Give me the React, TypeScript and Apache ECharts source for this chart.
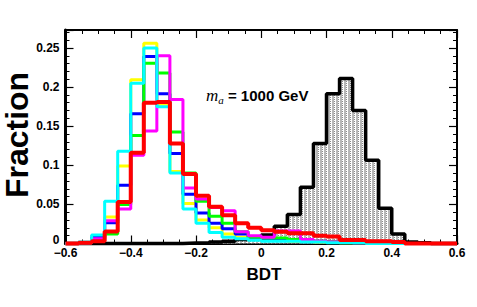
import React, { useEffect, useRef } from "react";
import * as echarts from "echarts";

// Bin edges: 30 bins of width 0.04 from -0.6 to 0.6
const binStart = -0.6;
const binWidth = 0.04;

const yellowVals = [0, 0.001, 0.006, 0.034, 0.099, 0.2095, 0.256, 0.178, 0.092, 0.051, 0.03, 0.02, 0.012, 0.008, 0.005, 0.004, 0.004, 0.003, 0.003, 0.002, 0.002, 0.001, 0.001, 0.001, 0, 0, 0, 0, 0, 0];
const blueVals = [0, 0.001, 0.008, 0.0265, 0.0746, 0.166, 0.239, 0.1915, 0.115, 0.063, 0.039, 0.026, 0.019, 0.012, 0.007, 0.005, 0.006, 0.005, 0.004, 0.003, 0.002, 0.002, 0.001, 0.001, 0, 0, 0, 0, 0, 0];
const greenVals = [0, 0.001, 0.004, 0.012, 0.05, 0.138, 0.2306, 0.218, 0.1426, 0.09, 0.054, 0.035, 0.026, 0.015, 0.008, 0.007, 0.007, 0.005, 0.004, 0.003, 0.002, 0.002, 0.001, 0.001, 0, 0, 0, 0, 0, 0];
const magentaVals = [0, 0.001, 0.006, 0.029, 0.044, 0.113, 0.144, 0.24, 0.184, 0.071, 0.057, 0.046, 0.042, 0.015, 0.01, 0.008, 0.016, 0.016, 0.005, 0.003, 0.002, 0.002, 0.001, 0.001, 0, 0, 0, 0, 0, 0];
const cyanVals = [0, 0.002, 0.011, 0.054, 0.118, 0.205, 0.25, 0.175, 0.09, 0.044, 0.026, 0.014, 0.008, 0.006, 0.004, 0.003, 0.003, 0.003, 0.002, 0.002, 0.001, 0.001, 0.001, 0, 0, 0, 0, 0, 0, 0];
const redVals = [0, 0.001, 0.003, 0.0155, 0.053, 0.116, 0.18, 0.181, 0.128, 0.089, 0.061, 0.047, 0.036, 0.026, 0.02, 0.017, 0.015, 0.013, 0.013, 0.01, 0.009, 0.0045, 0.0045, 0.003, 0.003, 0.002, 0, 0, 0, 0];
const signalVals = [0, 0, 0, 0, 0, 0, 0, 0, 0, 0.0005, 0.001, 0.002, 0.003, 0.005, 0.008, 0.011, 0.022, 0.037, 0.072, 0.128, 0.1915, 0.211, 0.17, 0.1065, 0.045, 0.012, 0.002, 0.001, 0, 0];

const xTicks = [-0.6, -0.4, -0.2, 0, 0.2, 0.4, 0.6];
const yTicks = [0, 0.05, 0.1, 0.15, 0.2, 0.25];

function stepData(vals: number[]) {
  const pts: [number, number][] = vals.map((v, i) => [+(binStart + i * binWidth).toFixed(4), v]);
  pts.push([+(binStart + vals.length * binWidth).toFixed(4), vals[vals.length - 1]]);
  return pts;
}

function makePattern() {
  const c = document.createElement("canvas");
  c.width = 4;
  c.height = 4;
  const ctx = c.getContext("2d")!;
  ctx.fillStyle = "#ffffff";
  ctx.fillRect(0, 0, 4, 4);
  ctx.fillStyle = "#b8b8b8";
  ctx.fillRect(0, 0, 2, 4);
  ctx.fillStyle = "#8a8a8a";
  ctx.fillRect(2, 1, 1, 1);
  ctx.fillRect(2, 3, 1, 1);
  return c;
}

export default function App() {
  const ref = useRef<HTMLDivElement>(null);
  useEffect(() => {
    if (!ref.current) return;
    const chart = echarts.init(ref.current, null, { renderer: "svg" });
    const font = "Liberation Sans, Arial, Helvetica, sans-serif";
    const fmtX = (v: number) => {
      if (Math.abs(v) < 1e-9) return "0";
      const s = String(+Math.abs(v).toFixed(2));
      return v < 0 ? "\u2212" + s : s;
    };
    const fmtY = (v: number) => (Math.abs(v) < 1e-9 ? "{z|0}" : String(+v.toFixed(2)));
    const line = (vals: number[], color: string, width: number, z: number) => ({
      type: "line",
      data: stepData(vals),
      step: "end",
      symbol: "none",
      clip: false,
      z,
      lineStyle: { color, width },
      itemStyle: { color },
      silent: true,
    });
    let fill: any = "#c4c4c4";
    try {
      fill = { image: makePattern(), repeat: "repeat" };
    } catch (e) {
      fill = "#c4c4c4";
    }
    const axisCommon = {
      type: "value",
      splitLine: { show: false },
      axisTick: { show: true, inside: true, length: 8, lineStyle: { color: "#000", width: 1.2 } },
      minorTick: { show: true, length: 4, lineStyle: { color: "#000", width: 1 } },
      minorSplitLine: { show: false },
    };
    chart.setOption({
      animation: false,
      grid: { left: 65.5, right: 20, top: 30, bottom: 63.5, containLabel: false },
      xAxis: [
        {
          ...axisCommon,
          min: -0.6,
          max: 0.6,
          interval: 0.2,
          position: "bottom",
          minorTick: { ...axisCommon.minorTick, splitNumber: 4 },
          axisLine: { show: true, onZero: false, lineStyle: { color: "#000", width: 3 } },
          axisLabel: {
            show: true,
            formatter: (v: number) => (xTicks.some((t) => Math.abs(t - v) < 1e-6) ? fmtX(v) : ""),
            fontFamily: font,
            fontWeight: "bold",
            fontSize: 12,
            color: "#000",
            margin: 3,
          },
        },
        {
          ...axisCommon,
          min: -0.6,
          max: 0.6,
          interval: 0.2,
          position: "top",
          minorTick: { ...axisCommon.minorTick, splitNumber: 4 },
          axisLine: { show: true, onZero: false, lineStyle: { color: "#000", width: 2 } },
          axisLabel: { show: false },
        },
      ],
      yAxis: [
        {
          ...axisCommon,
          min: 0,
          max: 0.273,
          interval: 0.05,
          position: "left",
          minorTick: { ...axisCommon.minorTick, splitNumber: 5 },
          axisLine: { show: true, onZero: false, lineStyle: { color: "#000", width: 3 } },
          axisLabel: {
            show: true,
            showMaxLabel: false,
            formatter: (v: number) => (yTicks.some((t) => Math.abs(t - v) < 1e-6) ? fmtY(v) : ""),
            fontFamily: font,
            fontWeight: "bold",
            fontSize: 12,
            color: "#000",
            margin: 6,
            rich: {
              z: {
                fontFamily: font,
                fontWeight: "bold",
                fontSize: 12,
                color: "#000",
                padding: [0, 0, 8, 0],
              },
            },
          },
        },
        {
          ...axisCommon,
          min: 0,
          max: 0.273,
          interval: 0.05,
          position: "right",
          minorTick: { ...axisCommon.minorTick, splitNumber: 5 },
          axisLine: { show: true, onZero: false, lineStyle: { color: "#000", width: 2 } },
          axisLabel: { show: false },
        },
      ],
      series: [
        {
          ...line(signalVals, "#000000", 3.5, 2),
          areaStyle: { color: fill, opacity: 1 },
        },
        line(yellowVals, "#ffff00", 3, 3),
        line(blueVals, "#0000ff", 3, 4),
        line(greenVals, "#00ff00", 3, 5),
        line(magentaVals, "#ff00ff", 3, 6),
        line(cyanVals, "#00ffff", 3, 7),
        line(redVals, "#ff0000", 4, 8),
      ],
      graphic: [
        {
          type: "text",
          left: 206,
          top: 87,
          style: {
            rich: {
              m: { fontFamily: "Liberation Serif, Times New Roman, serif", fontStyle: "italic", fontSize: 17, fill: "#000" },
              s: { fontFamily: "Liberation Serif, Times New Roman, serif", fontStyle: "italic", fontSize: 11, fill: "#000", padding: [8, 0, 0, 0] },
              t: { fontFamily: font, fontWeight: "bold", fontSize: 15, fill: "#000" },
            },
            text: "{m|m}{s|a}{t| = 1000 GeV}",
          },
        },
        {
          type: "text",
          x: 17,
          y: 135,
          rotation: Math.PI / 2,
          style: {
            text: "Fraction",
            fontFamily: font,
            fontWeight: "bold",
            fontSize: 32,
            fill: "#000",
            align: "center",
            verticalAlign: "middle",
          },
        },
        {
          type: "text",
          x: 264,
          y: 274,
          style: {
            text: "BDT",
            fontFamily: font,
            fontWeight: "bold",
            fontSize: 17,
            fill: "#000",
            align: "center",
            verticalAlign: "middle",
          },
        },
      ],
    });
    return () => chart.dispose();
  }, []);
  return (
    <div
      ref={ref}
      style={{ position: "fixed", left: 0, top: 0, width: 477, height: 307, background: "#fff" }}
    />
  );
}
